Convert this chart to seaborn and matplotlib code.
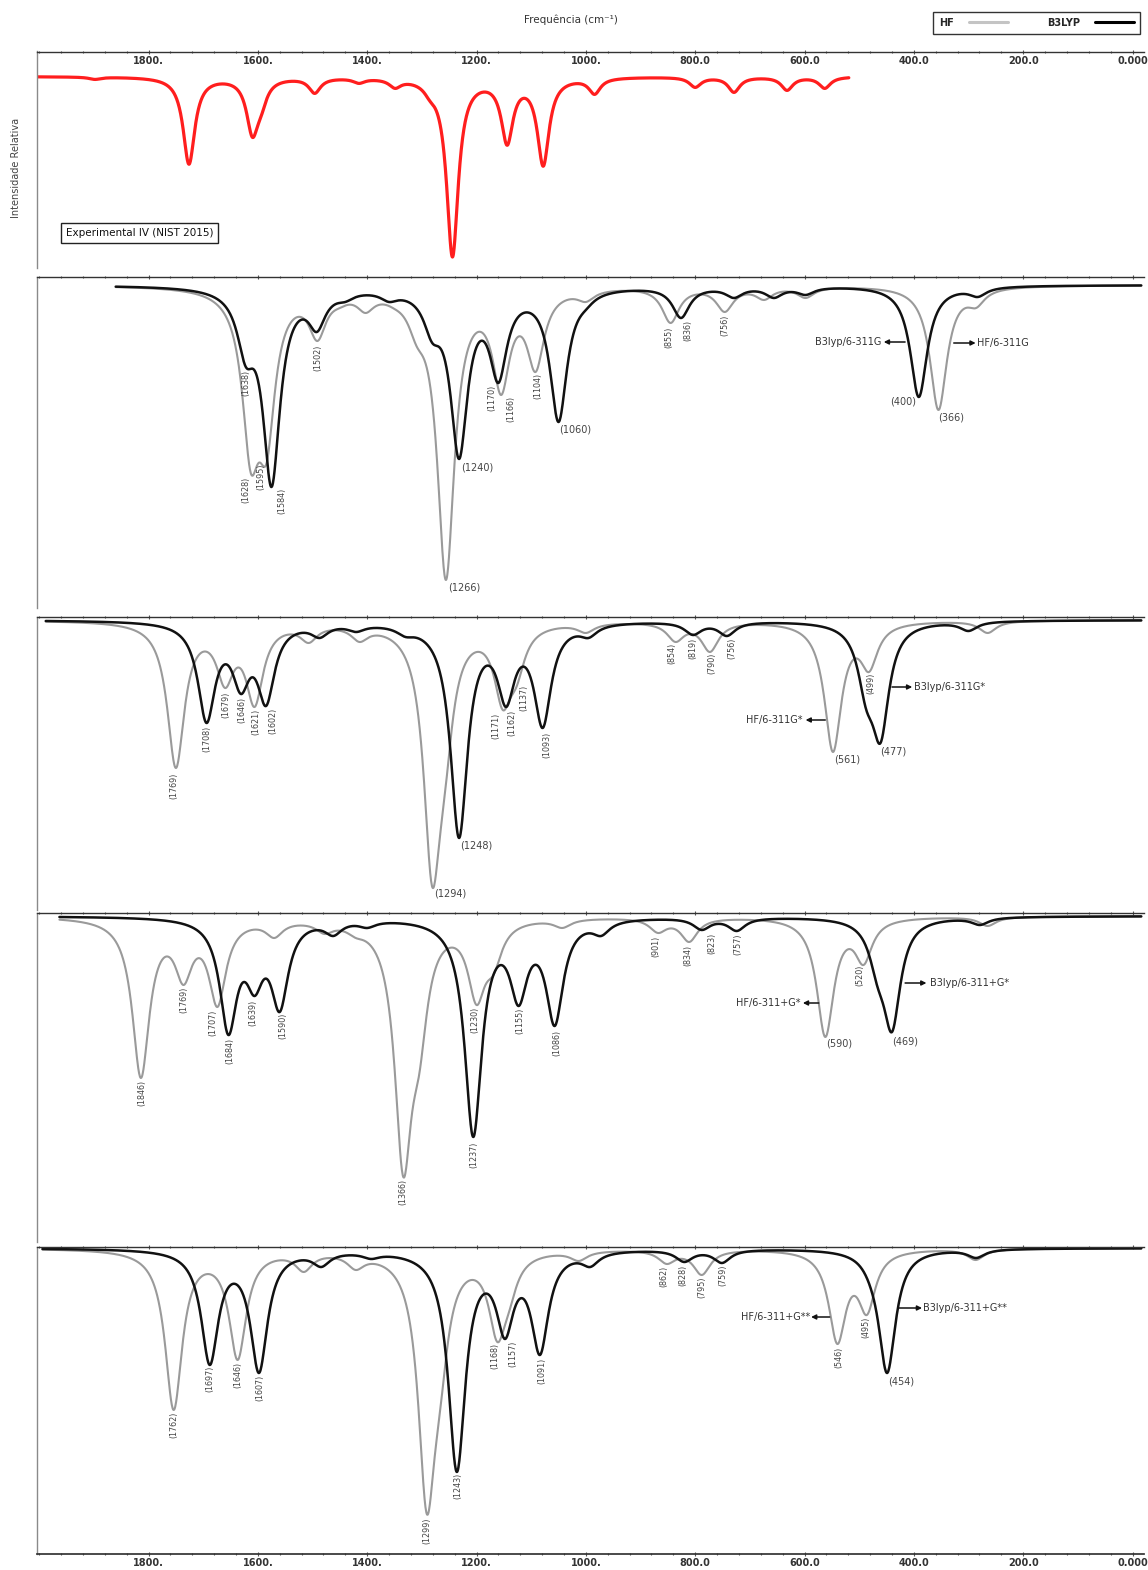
"""Stacked IR spectra: NIST experimental vs HF / B3LYP with four basis sets."""

import matplotlib

matplotlib.use("Agg")

import matplotlib.pyplot as plt
import numpy as np
import pandas as pd
import seaborn as sns
from matplotlib.lines import Line2D
from matplotlib.ticker import FixedLocator, MultipleLocator

sns.set_theme(style="white")
plt.rcParams["font.family"] = ["DejaVu Sans"]

# ---------------------------------------------------------------- data
# band centres (cm-1) and depth of the trace at each band
TICKS = [1800, 1600, 1400, 1200, 1000, 800, 600, 400, 200, 0]
TICK_LABELS = ["1800.", "1600.", "1400.", "1200.", "1000.",
               "800.0", "600.0", "400.0", "200.0", "0.000"]

EXP_RANGE = (2004, 519)
EXP_POS = [1898, 1726, 1610, 1594, 1496, 1415, 1349, 1285, 1244, 1144, 1078,
           984, 800, 729, 632, 563]
EXP_DEPTH = [3, 88, 61, 40, 17, 7, 12, 25, 181, 69, 90, 18, 11, 16, 14, 12]

# 6-311G
HF_A_POS = [1613, 1584, 1491, 1450, 1403, 1350, 1309, 1256, 1155, 1092, 1000,
            845, 746, 674, 598, 355, 286]
HF_A_DEPTH = [188, 178, 56, 23, 28, 24, 62, 295, 110, 87, 17, 38, 27, 15, 13, 125, 23]
B3_A_POS = [1622, 1575, 1492, 1440, 1360, 1281, 1232, 1160, 1050, 1000, 826,
            729, 656, 598, 391, 283]
B3_A_DEPTH = [82, 202, 47, 17, 17, 58, 174, 98, 137, 25, 33, 13, 13, 10, 112, 12]

# 6-311G*
HF_B_POS = [1750, 1660, 1606, 1507, 1414, 1281, 1258, 1152, 1127, 1000, 836,
            773, 548, 482, 265]
HF_B_DEPTH = [148, 68, 87, 23, 22, 267, 175, 90, 67, 13, 22, 32, 132, 52, 13]
B3_B_POS = [1694, 1631, 1585, 1487, 1420, 1330, 1232, 1146, 1079, 995, 804,
            742, 487, 461, 300]
B3_B_DEPTH = [103, 74, 86, 18, 12, 17, 218, 87, 108, 18, 15, 16, 90, 123, 11]

# 6-311+G*
HF_C_POS = [1814, 1736, 1674, 1570, 1478, 1421, 1334, 1305, 1200, 1169, 1043,
            868, 811, 562, 492, 265]
HF_C_DEPTH = [162, 69, 91, 22, 18, 22, 261, 159, 89, 59, 12, 17, 26, 121, 49, 10]
B3_C_POS = [1654, 1606, 1560, 1462, 1400, 1206, 1123, 1057, 972, 788, 724,
            466, 440, 279]
B3_C_DEPTH = [119, 80, 96, 20, 12, 221, 90, 110, 20, 14, 15, 72, 116, 9]

# 6-311+G**
HF_D_POS = [1754, 1637, 1516, 1421, 1291, 1267, 1162, 1141, 1013, 852, 788,
            540, 486, 287]
HF_D_DEPTH = [162, 112, 24, 22, 266, 165, 94, 65, 13, 16, 27, 96, 67, 12]
B3_D_POS = [1688, 1598, 1484, 1393, 1236, 1148, 1084, 992, 820, 751, 478, 449, 286]
B3_D_DEPTH = [117, 125, 19, 11, 224, 91, 107, 19, 14, 15, 42, 125, 10]

CALC_START = [1860, 1988, 1963, 1994]
CALC_END = -16

# peak labels: (value, cm-1, depth, kind)  kind v=vertical, l/r=horizontal
PEAK_LABELS = [
    [(1638, 1621, 85, "v"), (1628, 1622, 192, "v"), (1595, 1594, 178, "v"),
     (1584, 1556, 203, "v"), (1502, 1491, 60, "v"), (1266, 1252, 298, "l"),
     (1240, 1229, 177, "l"), (1170, 1172, 100, "v"), (1166, 1137, 111, "v"),
     (1104, 1088, 88, "v"), (1060, 1048, 139, "l"), (855, 849, 42, "v"),
     (836, 814, 35, "v"), (756, 746, 30, "v"), (400, 396, 111, "r"),
     (366, 355, 128, "l")],
    [(1769, 1754, 153, "v"), (1708, 1694, 106, "v"), (1679, 1658, 72, "v"),
     (1646, 1630, 77, "v"), (1621, 1604, 89, "v"), (1602, 1573, 88, "v"),
     (1294, 1277, 269, "l"), (1248, 1230, 220, "l"), (1171, 1164, 93, "v"),
     (1162, 1136, 90, "v"), (1137, 1114, 65, "v"), (1093, 1071, 112, "v"),
     (854, 842, 23, "v"), (819, 804, 18, "v"), (790, 770, 33, "v"),
     (756, 732, 18, "v"), (561, 545, 135, "l"), (477, 462, 126, "l"),
     (499, 479, 53, "v")],
    [(1846, 1813, 164, "v"), (1769, 1735, 71, "v"), (1707, 1682, 94, "v"),
     (1684, 1652, 122, "v"), (1639, 1609, 84, "v"), (1590, 1554, 97, "v"),
     (1366, 1334, 263, "v"), (1230, 1203, 91, "v"), (1237, 1205, 226, "v"),
     (1155, 1121, 92, "v"), (1086, 1053, 114, "v"), (901, 871, 20, "v"),
     (834, 813, 29, "v"), (823, 770, 17, "v"), (757, 722, 17, "v"),
     (520, 499, 49, "v"), (590, 560, 123, "l"), (469, 440, 120, "l")],
    [(1762, 1753, 164, "v"), (1697, 1688, 118, "v"), (1646, 1637, 114, "v"),
     (1607, 1597, 127, "v"), (1299, 1290, 269, "v"), (1243, 1234, 225, "v"),
     (1168, 1167, 95, "v"), (1157, 1134, 93, "v"), (1091, 1081, 110, "v"),
     (862, 857, 18, "v"), (828, 823, 17, "v"), (795, 788, 29, "v"),
     (759, 749, 17, "v"), (546, 537, 99, "v"), (495, 487, 69, "v"),
     (454, 447, 128, "l")],
]

# method tags with arrows: (text, tail, head, depth, text anchor, ha)
METHOD_TAGS = [
    [("B3lyp/6-311G", 416, 455, 57, 459, "right"),
     ("HF/6-311G", 327, 287, 58, 285, "left")],
    [("B3lyp/6-311G*", 440, 403, 67, 400, "left"),
     ("HF/6-311G*", 562, 598, 100, 603, "right")],
    [("B3lyp/6-311+G*", 416, 377, 67, 371, "left"),
     ("HF/6-311+G*", 574, 603, 87, 608, "right")],
    [("B3lyp/6-311+G**", 427, 385, 60, 383, "left"),
     ("HF/6-311+G**", 554, 588, 69, 590, "right")],
]

CALC = [
    (HF_A_POS, HF_A_DEPTH, B3_A_POS, B3_A_DEPTH),
    (HF_B_POS, HF_B_DEPTH, B3_B_POS, B3_B_DEPTH),
    (HF_C_POS, HF_C_DEPTH, B3_C_POS, B3_C_DEPTH),
    (HF_D_POS, HF_D_DEPTH, B3_D_POS, B3_D_DEPTH),
]

# ---------------------------------------------------------------- layout
W, H = 1148, 1570
LEFT, RIGHT = 37, 1144
PANELS_PX = [(51.5, 268), (277, 608), (617, 910), (913, 1242), (1247, 1554)]
YLIMS = [(-192, 25), (-323, 8), (-290, 3), (-326, 3), (-306, 1)]
XLIM = (2004, -21)
HF_COLOR, B3_COLOR, EXP_COLOR = "#9a9a9a", "#111111", "#ff1e1e"


def broaden(grid, pos, depth, hwhm):
    """Lorentzian band envelope whose value at each centre equals its depth."""
    pos = np.asarray(pos, float)
    depth = np.asarray(depth, float)

    def kernel(w):
        return hwhm**2 / ((np.asarray(w, float)[:, None] - pos[None, :]) ** 2 + hwhm**2)

    k = kernel(pos)
    amp = depth.copy()
    for _ in range(800):
        amp = np.clip(amp + 0.3 * (depth - k @ amp), 0.0, None)
    return -(kernel(grid) @ amp)


def style_axis(ax, ylim):
    ax.set_xlim(*XLIM)
    ax.set_ylim(*ylim)
    ax.set_yticks([])
    ax.set_xlabel("")
    ax.set_ylabel("")
    ax.xaxis.set_major_locator(FixedLocator(TICKS))
    ax.xaxis.set_minor_locator(MultipleLocator(40))
    ax.set_xticklabels(TICK_LABELS)
    for s in ("right", "bottom"):
        ax.spines[s].set_visible(False)
    ax.spines["top"].set_color("#333333")
    ax.spines["top"].set_linewidth(1.0)
    ax.spines["left"].set_color("#8a8a8a")
    ax.spines["left"].set_linewidth(1.0)
    ax.tick_params(axis="x", which="both", top=True, bottom=False,
                   labeltop=False, labelbottom=False, direction="inout",
                   color="#555555", width=0.8)
    ax.tick_params(axis="x", which="major", length=3.5)
    ax.tick_params(axis="x", which="minor", length=2)


fig = plt.figure(figsize=(W / 100, H / 100), dpi=100, facecolor="white")
axes = []
for top, bot in PANELS_PX:
    ax = fig.add_axes([LEFT / W, 1 - bot / H, (RIGHT - LEFT) / W, (bot - top) / H])
    ax.set_facecolor("white")
    axes.append(ax)

# experimental panel
grid = np.linspace(EXP_RANGE[0], EXP_RANGE[1], 2500)
exp_df = pd.DataFrame({"freq": grid, "signal": broaden(grid, EXP_POS, EXP_DEPTH, 13)})
sns.lineplot(data=exp_df, x="freq", y="signal", ax=axes[0], color=EXP_COLOR,
             linewidth=2.3, estimator=None, sort=False)
style_axis(axes[0], YLIMS[0])
axes[0].tick_params(axis="x", which="major", labeltop=True, pad=-12,
                    labelsize=7, labelcolor="#333333")
for lab in axes[0].get_xticklabels():
    lab.set_fontweight("bold")
axes[0].text(0.026, 0.162, "Experimental IV (NIST 2015)", transform=axes[0].transAxes,
             ha="left", va="center", fontsize=7.5, color="#111111",
             bbox=dict(boxstyle="square,pad=0.45", facecolor="white",
                       edgecolor="#222222", linewidth=1.0))

# calculated panels
for i, (hf_pos, hf_d, b3_pos, b3_d) in enumerate(CALC):
    ax = axes[i + 1]
    grid = np.linspace(CALC_START[i], CALC_END, 2500)
    df = pd.concat([
        pd.DataFrame({"freq": grid, "signal": broaden(grid, hf_pos, hf_d, 19),
                      "method": "HF"}),
        pd.DataFrame({"freq": grid, "signal": broaden(grid, b3_pos, b3_d, 19),
                      "method": "B3LYP"}),
    ], ignore_index=True)
    sns.lineplot(data=df, x="freq", y="signal", hue="method", size="method",
                 hue_order=["HF", "B3LYP"], size_order=["HF", "B3LYP"],
                 palette={"HF": HF_COLOR, "B3LYP": B3_COLOR},
                 sizes={"HF": 1.5, "B3LYP": 1.8},
                 estimator=None, sort=False, legend=False, ax=ax)
    style_axis(ax, YLIMS[i + 1])

    for value, w, d, kind in PEAK_LABELS[i]:
        if kind == "v":
            ax.text(w, -d, f"({value})", rotation=90, ha="center", va="top",
                    fontsize=5.8, color="#444444")
        else:
            ax.text(w, -d, f"({value})", ha="left" if kind == "l" else "right",
                    va="top", fontsize=7, color="#444444")

    for text, tail, head, d, at, ha in METHOD_TAGS[i]:
        ax.annotate("", xy=(head, -d), xytext=(tail, -d),
                    arrowprops=dict(arrowstyle="-|>", color="#111111", lw=1.1,
                                    mutation_scale=7, shrinkA=0, shrinkB=0))
        ax.text(at, -d, text, ha=ha, va="center", fontsize=7, color="#333333")

# bottom axis of last panel
last = axes[-1]
last.spines["bottom"].set_visible(True)
last.spines["bottom"].set_color("#333333")
last.tick_params(axis="x", which="both", bottom=True, labelbottom=True)
last.tick_params(axis="x", which="major", pad=1, labelsize=7, labelcolor="#333333")
for lab in last.get_xticklabels():
    lab.set_fontweight("bold")

fig.text(571 / W, 1 - 20 / H, "Frequência (cm⁻¹)", ha="center", va="center",
         fontsize=7.5, color="#333333")
fig.text(16 / W, 1 - 168 / H, "Intensidade Relativa", rotation=90, ha="center",
         va="center", fontsize=7, color="#444444")

handles = [Line2D([], [], color="#c4c4c4", lw=2.2),
           Line2D([], [], color="#000000", lw=2.2)]
fig.legend(handles, ["HF", "B3LYP"], loc="upper right",
           bbox_to_anchor=(1140 / W, 1 - 12 / H), borderaxespad=0, ncol=2,
           markerfirst=False, frameon=True, fancybox=False, edgecolor="#333333",
           framealpha=1, prop={"size": 7, "weight": "bold"}, handlelength=4.0,
           columnspacing=4.0, handletextpad=1.6, borderpad=0.6)

fig.savefig("out.png", dpi=100, facecolor="white")
